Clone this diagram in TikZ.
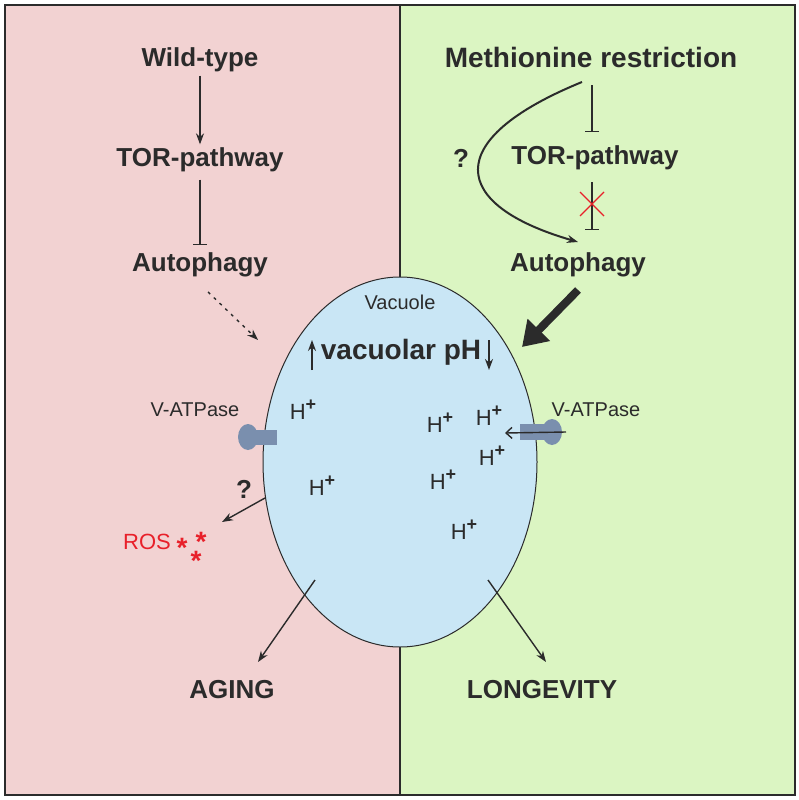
\documentclass[tikz,border=0pt]{standalone}
\usepackage{fontspec}
\setmainfont{Liberation Sans}
\usetikzlibrary{arrows.meta}
\definecolor{pinkbg}{HTML}{F2D2D2}
\definecolor{greenbg}{HTML}{DBF5C2}
\definecolor{vac}{HTML}{C9E6F5}
\definecolor{pump}{HTML}{7A8FAE}
\definecolor{rosred}{HTML}{E8202A}
\definecolor{txt}{HTML}{2B2B2B}
\newcommand{\Hp}{H\raisebox{0.42em}{\fontsize{18}{18}\selectfont\bfseries +}}
\begin{document}
\begin{tikzpicture}[x=1pt,y=-1pt,
  lbl/.style={font=\fontsize{26}{28}\selectfont\bfseries,text=txt},
  sm/.style={font=\fontsize{20}{22}\selectfont,text=txt},
  hp/.style={font=\fontsize{22}{24}\selectfont,text=txt},
  star/.style={font=\fontsize{28}{28}\selectfont\bfseries,text=rosred,inner sep=0pt},
  arr/.style={draw=txt,line width=1.4pt,-{Stealth[length=11pt,width=8pt]}},
  inh/.style={draw=txt,line width=1.4pt,-{Bar[width=14pt]}}]
\useasboundingbox (0,0) rectangle (799,800);
\fill[pinkbg] (5,5) rectangle (400,795);
\fill[greenbg] (400,5) rectangle (795,795);
\draw[line width=1.2pt,txt] (400,5) -- (400,795);
\draw[line width=1.5pt,txt] (5,5) rectangle (795,795);
\draw[fill=vac,draw=txt,line width=1pt] (400,462) ellipse (137 and 185);
% left column
\node[lbl] (wt) at (200,60) {Wild-type};
\node[lbl] (tor1) at (200,160) {TOR-pathway};
\node[lbl] (aut1) at (200,265) {Autophagy};
\draw[arr] (wt) -- (tor1);
\draw[inh,shorten <=4pt,shorten >=4pt] (tor1) -- (aut1);
\coordinate (d1) at (208,292); \coordinate (d2) at (258,340);
\draw[arr,dash pattern=on 3pt off 5pt] (d1) -- (d2);
% right column
\node[lbl,font=\fontsize{28}{30}\selectfont\bfseries] (met) at (591,57) {Methionine restriction};
\node[lbl] (tor2) at (595,158) {TOR-pathway};
\node[lbl] (aut2) at (578,265) {Autophagy};
\coordinate (m1) at (592,85); \coordinate (m2) at (592,132);
\draw[inh] (m1) -- (m2);
\coordinate (t1) at (592,182); \coordinate (t2) at (592,230);
\draw[inh] (t1) -- (t2);
\draw[rosred,line width=1.3pt] (580,192) -- (604,216) (604,192) -- (580,216);
\node[lbl] (q1) at (461,158) {?};
\coordinate (c1) at (582,82); \coordinate (c2) at (578,242);
\draw[arr,line width=2pt] (c1) .. controls (440,140) and (450,205) .. (c2);
\coordinate (b1) at (578,290); \coordinate (b2) at (522,347);
\draw[txt,line width=8pt,-{Triangle[length=24pt,width=30pt]}] (b1) -- (b2);
% vacuole
\node[sm] (vl) at (400,302) {Vacuole};
\node[lbl,font=\fontsize{28}{30}\selectfont\bfseries] (ph) at (401,352) {vacuolar pH};
\coordinate (u1) at (312,370); \coordinate (u2) at (312,340);
\draw[arr] (u1) -- (u2);
\coordinate (w1) at (489,340); \coordinate (w2) at (489,370);
\draw[arr] (w1) -- (w2);
\node[hp] (h1) at (303,410) {\Hp};
\node[hp] (h2) at (322,486) {\Hp};
\node[hp] (h3) at (440,423) {\Hp};
\node[hp] (h4) at (489,416) {\Hp};
\node[hp] (h5) at (492,456) {\Hp};
\node[hp] (h6) at (443,480) {\Hp};
\node[hp] (h7) at (464,530) {\Hp};
% pumps
\node[sm] (va1) at (195,410) {V-ATPase};
\node[sm] (va2) at (596,410) {V-ATPase};
\fill[pump] (248,437) ellipse (10 and 13);
\fill[pump] (250,430) rectangle (277,445);
\fill[pump] (552,432) ellipse (10 and 13);
\fill[pump] (520,424) rectangle (550,440);
\coordinate (p1) at (566,432); \coordinate (p2) at (505,433);
\draw[draw=txt,line width=1.4pt,-{Straight Barb[length=6pt,width=11pt]}] (p1) -- (p2);
% ROS
\node[lbl] (q2) at (244,489) {?};
\coordinate (r1) at (265,498); \coordinate (r2) at (222,522);
\draw[arr] (r1) -- (r2);
\node[font=\fontsize{22}{24}\selectfont,text=rosred] (ros) at (147,542) {ROS};
\node[star] (s1) at (182,548) {*};
\node[star] (s2) at (201,542) {*};
\node[star] (s3) at (196,561) {*};
% outcomes
\node[lbl] (ag) at (232,690) {AGING};
\node[lbl] (lo) at (542,690) {LONGEVITY};
\coordinate (a1) at (315,580); \coordinate (a2) at (258,662);
\draw[arr] (a1) -- (a2);
\coordinate (l1) at (488,580); \coordinate (l2) at (546,662);
\draw[arr] (l1) -- (l2);
\end{tikzpicture}
\end{document}
